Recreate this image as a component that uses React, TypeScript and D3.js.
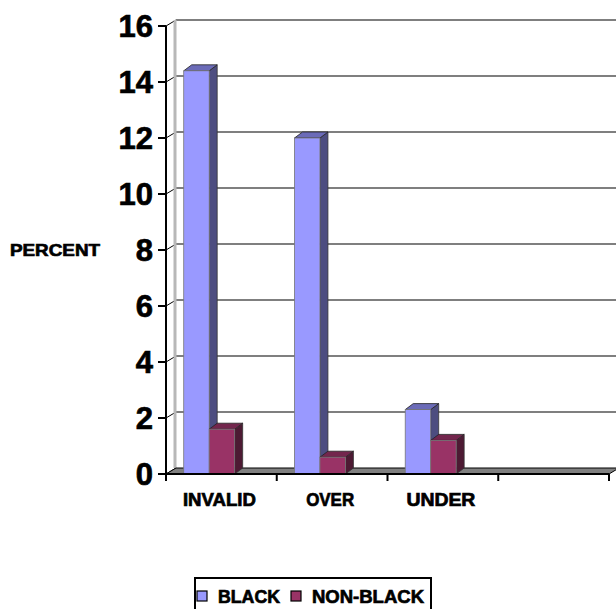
import React from "react";
import * as d3 from "d3";

const categories = ["INVALID", "OVER", "UNDER", ""];
const blackValues = [14.4, 12.0, 2.3, null];
const nonBlackValues = [1.6, 0.6, 1.2, null];
const yTicks = [0, 2, 4, 6, 8, 10, 12, 14, 16];
const seriesNames = ["BLACK", "NON-BLACK"];

const W = 616;
const H = 609;
const FONT = "'Liberation Sans', Arial, Helvetica, sans-serif";

// depth offsets of the 3-D walls and of the columns
const WALL_DX = 10;
const WALL_DY = -6;
const BAR_DX = 8;
const BAR_DY = -6;

const seriesColors = [
  { front: "#9999FF", side: "#4D4D80", top: "#6B6BB8" },
  { front: "#993366", side: "#4D1A33", top: "#73264D" },
];

// widths of the blocky label lettering
const categoryLabelWidths = [73, 48, 69, 0];
const legendLabelWidths = [62, 112];

export default function App() {
  const x = d3.scaleBand<string>().domain(categories).range([166, 609]).padding(0);
  const y = d3.scaleLinear().domain([0, 16]).range([474, 26]);
  const bw = x.bandwidth();
  const barW = bw * 0.23;
  const barOff = bw * 0.16;
  const x0 = 166;
  const x1 = 609;

  const series = [blackValues, nonBlackValues];

  const bars: React.ReactNode[] = [];
  categories.forEach((c, ci) => {
    series.forEach((vals, si) => {
      const v = vals[ci];
      if (v == null) return;
      const left = (x(c) as number) + barOff + si * barW;
      const right = left + barW;
      const top = y(v);
      const bottom = y(0);
      const col = seriesColors[si];
      bars.push(
        <g key={`${ci}-${si}`}>
          <polygon
            points={`${right},${bottom} ${right + BAR_DX},${bottom + BAR_DY} ${right + BAR_DX},${top + BAR_DY} ${right},${top}`}
            fill={col.side}
            stroke="#333"
            strokeWidth={0.8}
          />
          <polygon
            points={`${left},${top} ${right},${top} ${right + BAR_DX},${top + BAR_DY} ${left + BAR_DX},${top + BAR_DY}`}
            fill={col.top}
            stroke="#222"
            strokeWidth={0.8}
          />
          <rect
            x={left}
            y={top}
            width={barW}
            height={bottom - top}
            fill={col.front}
            stroke="#777"
            strokeWidth={0.8}
          />
        </g>
      );
    });
  });

  const heavy = { stroke: "#000", strokeWidth: 0.7, paintOrder: "stroke" } as const;

  return (
    <svg
      width={W}
      height={H}
      style={{ position: "absolute", left: 0, top: 0, display: "block", background: "#fff" }}
      fontFamily={FONT}
    >
      {/* back-wall gridlines and their diagonals on the side wall */}
      {yTicks.map((t) => (
        <g key={`g${t}`}>
          {t > 0 && (
            <line x1={x0 + WALL_DX} x2={W + 20} y1={y(t) + WALL_DY} y2={y(t) + WALL_DY} stroke="#000" strokeWidth={1.2} />
          )}
          <line x1={x0} x2={x0 + WALL_DX} y1={y(t)} y2={y(t) + WALL_DY} stroke="#000" strokeWidth={1} />
        </g>
      ))}

      {/* back edge of the side wall */}
      <line x1={x0 + WALL_DX - 1} x2={x0 + WALL_DX - 1} y1={y(16) + WALL_DY} y2={y(0) + WALL_DY} stroke="#B8B8B8" strokeWidth={3} />

      {/* floor */}
      <polygon
        points={`${x0},${y(0)} ${x1},${y(0)} ${x1 + WALL_DX},${y(0) + WALL_DY} ${x0 + WALL_DX},${y(0) + WALL_DY}`}
        fill="#808080"
        stroke="#000"
        strokeWidth={1}
      />

      {bars}

      {/* value axis */}
      <line x1={x0} x2={x0} y1={y(16)} y2={y(0) + 1} stroke="#000" strokeWidth={2} />
      {yTicks.map((t) => (
        <g key={`t${t}`}>
          <line x1={158} x2={x0} y1={y(t)} y2={y(t)} stroke="#000" strokeWidth={2} />
          <text
            x={153}
            y={y(t) + 11}
            textAnchor="end"
            fontSize={31}
            fontWeight="bold"
            fill="#000"
            {...heavy}
          >
            {t}
          </text>
        </g>
      ))}

      {/* category axis */}
      <line x1={x0} x2={x1} y1={y(0)} y2={y(0)} stroke="#000" strokeWidth={2} />
      {categories.map((c) => (
        <line key={`ct${c}`} x1={x(c) as number} x2={x(c) as number} y1={y(0)} y2={y(0) + 7} stroke="#000" strokeWidth={2} />
      ))}
      <line x1={x1} x2={x1} y1={y(0)} y2={y(0) + 7} stroke="#000" strokeWidth={2} />
      {categories.map((c, i) =>
        c ? (
          <text
            key={`cl${c}`}
            x={(x(c) as number) + bw / 2 - 2}
            y={506}
            textAnchor="middle"
            fontSize={18}
            fontWeight="bold"
            fill="#000"
            textLength={categoryLabelWidths[i]}
            lengthAdjust="spacingAndGlyphs"
            {...heavy}
          >
            {c}
          </text>
        ) : null
      )}

      <text
        x={10}
        y={256}
        fontSize={17}
        fontWeight="bold"
        fill="#000"
        textLength={90}
        lengthAdjust="spacingAndGlyphs"
        {...heavy}
      >
        PERCENT
      </text>

      {/* legend */}
      <rect x={195} y={578} width={236} height={40} fill="#fff" stroke="#000" strokeWidth={2} />
      {seriesNames.map((s, i) => {
        const sx = i === 0 ? 197 : 291;
        return (
          <g key={s}>
            <rect x={sx} y={591} width={10} height={10} fill={seriesColors[i].front} stroke="#000" strokeWidth={1.2} />
            <text
              x={sx + 21}
              y={603}
              fontSize={19}
              fontWeight="bold"
              fill="#000"
              textLength={legendLabelWidths[i]}
              lengthAdjust="spacingAndGlyphs"
              {...heavy}
            >
              {s}
            </text>
          </g>
        );
      })}
    </svg>
  );
}
